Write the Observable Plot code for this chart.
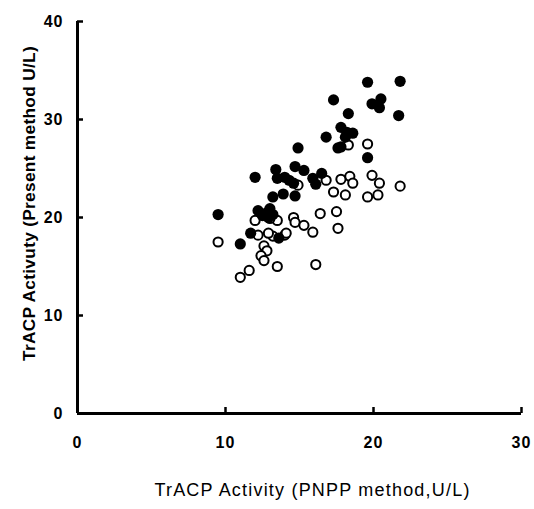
<!DOCTYPE html>
<html>
<head>
<meta charset="utf-8">
<script src="https://cdn.jsdelivr.net/npm/d3@7"></script>
<script src="https://cdn.jsdelivr.net/npm/@observablehq/plot@0.6"></script>
<style>
  html, body { margin: 0; padding: 0; background: #fff; }
  #chart svg { display: block; }
</style>
</head>
<body>
<div id="chart"></div>
<script>
// Filled circles (series 1)
const filledX = [9.5, 11.0, 11.7, 13.6, 12.2, 12.8, 13.0, 12.5, 12.9, 13.2, 13.2, 13.9, 14.7, 12.0, 13.4, 14.7, 15.3, 13.5, 14.0, 14.3, 14.6, 15.9, 16.1, 16.5, 14.9, 16.8, 17.3, 18.3, 17.8, 18.2, 18.6, 18.1, 17.6, 17.8, 19.6, 21.8, 20.5, 19.9, 20.4, 21.7, 19.6];
const filledY = [20.3, 17.3, 18.4, 17.9, 20.7, 20.5, 20.9, 20.2, 20.0, 20.3, 22.1, 22.4, 22.2, 24.1, 24.9, 25.2, 24.8, 24.0, 24.1, 23.8, 23.5, 24.0, 23.4, 24.5, 27.1, 28.2, 32.0, 30.6, 29.2, 28.7, 28.6, 28.2, 27.1, 27.2, 33.8, 33.9, 32.1, 31.6, 31.2, 30.4, 26.1];
// Open circles (series 2)
const openX = [9.5, 11.0, 11.6, 12.6, 12.8, 12.4, 12.6, 13.5, 16.1, 13.2, 14.0, 14.1, 12.2, 12.9, 12.0, 13.5, 13.0, 14.6, 14.7, 15.3, 15.9, 16.4, 17.5, 17.6, 14.9, 16.8, 17.8, 18.4, 18.6, 17.3, 18.1, 19.9, 20.4, 19.6, 20.3, 21.8, 18.3, 19.6];
const openY = [17.5, 13.9, 14.6, 17.1, 16.6, 16.1, 15.6, 15.0, 15.2, 18.1, 18.2, 18.4, 18.2, 18.4, 19.7, 19.7, 19.9, 20.0, 19.5, 19.2, 18.5, 20.4, 20.6, 18.9, 23.3, 23.8, 23.9, 24.2, 23.5, 22.6, 22.3, 24.3, 23.5, 22.1, 22.3, 23.2, 27.4, 27.5];

const xTicks = [0, 10, 20, 30];
const yTicks = [0, 10, 20, 30, 40];
const xLabel = "TrACP Activity (PNPP method,U/L)";
const yLabel = "TrACP Activuty (Present method U/L)";

const filled = filledX.map((x, i) => ({x, y: filledY[i]}));
const open = openX.map((x, i) => ({x, y: openY[i]}));

const tickFont = {fontSize: 16, fontWeight: "bold", fontFamily: "Liberation Sans, Arial, sans-serif", fill: "#000"};

const chart = Plot.plot({
  width: 534,
  height: 509,
  marginLeft: 77,
  marginRight: 13,
  marginTop: 21,
  marginBottom: 96,
  style: {fontFamily: "Liberation Sans, Arial, sans-serif", background: "#fff", color: "#000"},
  x: {domain: [0, 30], axis: null},
  y: {domain: [0, 40], axis: null},
  marks: [
    // tick marks pointing inward
    Plot.axisY(yTicks, {anchor: "left", tickSize: -6, strokeWidth: 2.5, text: null, label: null}),
    Plot.axisX(xTicks, {anchor: "bottom", tickSize: -6, strokeWidth: 2.5, text: null, label: null}),
    // tick labels
    Plot.axisY(yTicks, {anchor: "left", tickSize: 0, tickPadding: 14, label: null, ...tickFont}),
    Plot.axisX(xTicks, {anchor: "bottom", tickSize: 0, tickPadding: 23, label: null, ...tickFont}),
    // axis lines
    Plot.ruleX([0], {strokeWidth: 3, stroke: "#000"}),
    Plot.ruleY([0], {strokeWidth: 3, stroke: "#000"}),
    // points
    Plot.dot(open, {x: "x", y: "y", r: 4.6, stroke: "#000", strokeWidth: 2, fill: "#fff"}),
    Plot.dot(filled, {x: "x", y: "y", r: 5.6, fill: "#000", stroke: "none"}),
    // axis titles
    Plot.text([yLabel], {frameAnchor: "left", rotate: -90, dx: -48, dy: -14, text: d => d,
      textAnchor: "middle", lineAnchor: "middle",
      fontSize: 17.3, fontWeight: "bold", fill: "#000"}),
    Plot.text([xLabel], {frameAnchor: "bottom", dx: 13, dy: 77, text: d => d,
      textAnchor: "middle", lineAnchor: "middle",
      fontSize: 18, fill: "#000"})
  ]
});
document.getElementById("chart").appendChild(chart);

// letter spacing tweaks (not a Plot text option)
const svg = d3.select(chart);
svg.selectAll("text").each(function() {
  const t = this.textContent;
  if (t === xLabel) this.setAttribute("letter-spacing", "1.2");
  else if (t === yLabel) this.setAttribute("letter-spacing", "0.3");
  else if (/^\d+$/.test(t)) this.setAttribute("letter-spacing", "1");
});
</script>
</body>
</html>
